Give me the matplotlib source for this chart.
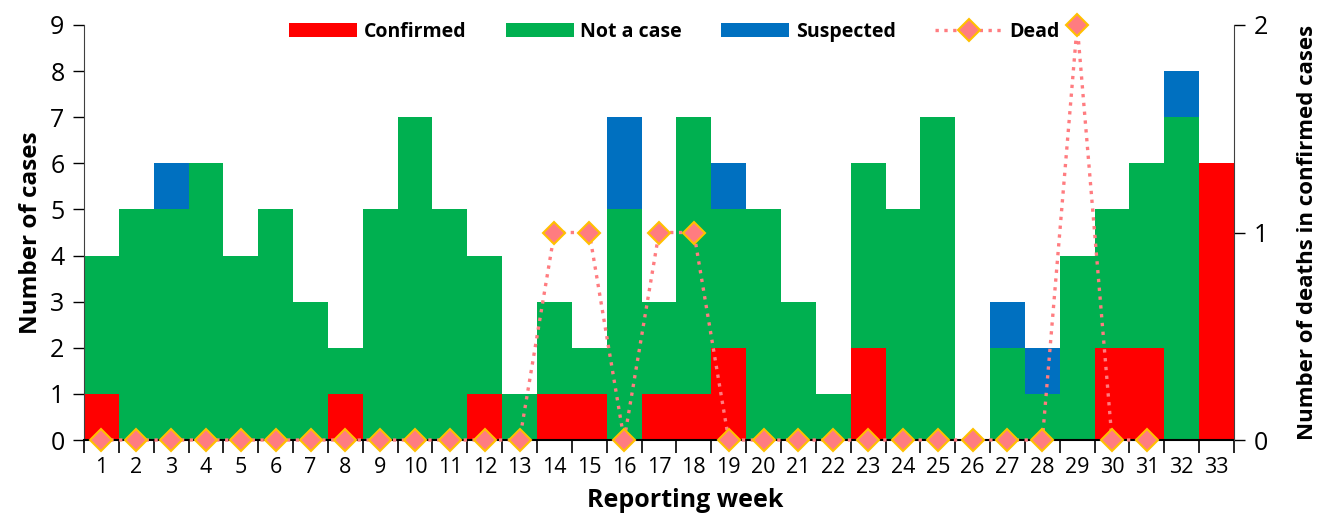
import numpy as np
import matplotlib
matplotlib.use('Agg')
import matplotlib.pyplot as plt

plt.rcParams['font.family'] = ['Open Sans', 'DejaVu Sans']

# weekly counts
weeks = list(range(1, 34))
confirmed = [1, 0, 0, 0, 0, 0, 0, 1, 0, 0, 0, 1, 0, 1, 1, 0, 1,
             1, 2, 0, 0, 0, 2, 0, 0, 0, 0, 0, 0, 2, 2, 0, 6]
not_a_case = [3, 5, 5, 6, 4, 5, 3, 1, 5, 7, 5, 3, 1, 2, 1, 5, 2,
              6, 3, 5, 3, 1, 4, 5, 7, 0, 2, 1, 4, 3, 4, 7, 0]
suspected = [0, 0, 1, 0, 0, 0, 0, 0, 0, 0, 0, 0, 0, 0, 0, 2, 0,
             0, 1, 0, 0, 0, 0, 0, 0, 0, 1, 1, 0, 0, 0, 1, 0]
# deaths reported up to week 31
dead_weeks = list(range(1, 32))
dead = [0, 0, 0, 0, 0, 0, 0, 0, 0, 0, 0, 0, 0, 1, 1, 0, 1, 1,
        0, 0, 0, 0, 0, 0, 0, 0, 0, 0, 2, 0, 0]

RED = '#FF0000'
GREEN = '#00B050'
BLUE = '#0070C0'

fig = plt.figure(figsize=(13.25, 5.19), dpi=100)
ax = fig.add_axes([84 / 1325, 1 - 440 / 519, 1150 / 1325, 415 / 519])

conf = np.array(confirmed)
nac = np.array(not_a_case)
sus = np.array(suspected)
ax.bar(weeks, conf, width=1.0, color=RED, label='Confirmed')
ax.bar(weeks, nac, width=1.0, bottom=conf, color=GREEN, label='Not a case')
ax.bar(weeks, sus, width=1.0, bottom=conf + nac, color=BLUE, label='Suspected')

ax.set_xlim(0.5, 33.5)
ax.set_ylim(0, 9)
ax.set_yticks(range(0, 10))
ax.set_xticks(weeks)
ax.set_xticks(np.arange(0.5, 34, 1), minor=True)
ax.tick_params(axis='x', which='major', length=0, labelsize=15.5, pad=12)
ax.tick_params(axis='x', which='minor', length=9, width=1.2, direction='out')
ax.tick_params(axis='y', length=8, width=1, labelsize=18, pad=6)
ax.spines['top'].set_visible(False)
ax.spines['right'].set_visible(False)
ax.spines['bottom'].set_linewidth(1.5)
ax.spines['left'].set_color('#404040')
ax.set_ylabel('Number of cases', fontsize=17.5, fontweight='bold', labelpad=5)
ax.set_xlabel('Reporting week', fontsize=18, fontweight='bold')
ax.xaxis.set_label_coords(0.523, -0.116)

ax2 = ax.twinx()
ax2.plot(dead_weeks, dead, linestyle=':', color='#FF7C80', linewidth=2.4,
         marker='D', markersize=11, markerfacecolor='#FF7C80',
         markeredgecolor='#FFC000', markeredgewidth=1.5, label='Dead',
         clip_on=False, zorder=5)
ax2.set_ylim(0, 2)
ax2.set_yticks([0, 1, 2])
ax2.tick_params(axis='y', length=8, width=1, labelsize=18, pad=6)
ax2.spines['top'].set_visible(False)
ax2.spines['left'].set_visible(False)
ax2.spines['bottom'].set_visible(False)
ax2.spines['right'].set_color('#404040')
ax2.set_ylabel('Number of deaths in confirmed cases', fontsize=16,
               fontweight='bold', labelpad=21)

h1, l1 = ax.get_legend_handles_labels()
h2, l2 = ax2.get_legend_handles_labels()
leg = ax2.legend(h1 + h2, l1 + l2, loc='upper center', ncol=4, frameon=False,
                 bbox_to_anchor=(0.5135, 1.05), handlelength=3.5, handleheight=0.75,
                 columnspacing=2.0, handletextpad=0.35,
                 prop={'weight': 'bold', 'size': 14})

fig.savefig('out.png', dpi=100)
